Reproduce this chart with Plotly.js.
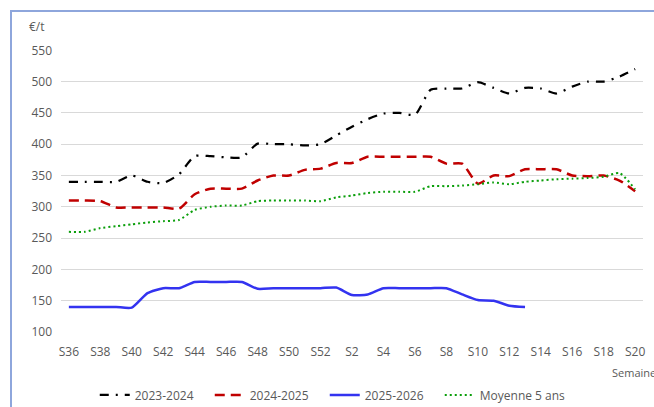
<!DOCTYPE html>
<html>
<head>
<meta charset="utf-8">
<script src="https://cdn.plot.ly/plotly-3.0.1.min.js"></script>
<style>
html,body{margin:0;padding:0;background:#fff;overflow:hidden;width:654px;height:407px;}
#chart{position:absolute;left:0;top:0;width:654px;height:407px;}
#frame{position:absolute;left:10px;top:10px;width:1000px;height:1000px;border-top:2px solid #8ea6dc;border-left:2px solid #8ea6dc;pointer-events:none;}
</style>
</head>
<body>
<div id="chart"></div>
<div id="frame"></div>
<script>
const weeks = ['S36','S37','S38','S39','S40','S41','S42','S43','S44','S45','S46','S47','S48','S49','S50','S51','S52',
  'S1','S2','S3','S4','S5','S6','S7','S8','S9','S10','S11','S12','S13','S14','S15','S16','S17','S18','S19','S20'];

const y2023_2024 = [340,340,340,340,350,340,338,352,381,381,379,379,401,400,400,398,400,
  414,428,440,449,450,447,487,489,489,499,490,481,490,489,481,492,500,500,508,520];

const y2024_2025 = [310,310,309,299,299,299,299,297,320,329,329,329,342,350,350,359,361,
  370,370,380,380,380,380,380,369,369,337,350,349,360,360,360,350,349,350,342,325];

const y2025_2026 = [140,140,140,140,139,162,170,170,180,180,180,180,169,170,170,170,170,
  171,159,160,170,170,170,170,170,160,151,150,142,140];

const yMoyenne5 = [260,260,266,269,272,275,277,279,295,300,302,302,309,310,310,310,309,
  315,318,322,324,324,324,333,333,334,336,339,336,340,342,344,345,346,348,354,328];

const seriesNames = ['2023-2024','2024-2025','2025-2026','Moyenne 5 ans'];
const yTickVals = [100,150,200,250,300,350,400,450,500,550];

const traces = [
  {x: weeks, y: y2023_2024, name: seriesNames[0], type:'scatter', mode:'lines',
   line:{color:'#000000', width:2.25, dash:'9px,7px,2px,7px', shape:'spline', smoothing:0.6}},
  {x: weeks, y: y2024_2025, name: seriesNames[1], type:'scatter', mode:'lines',
   line:{color:'#c00000', width:2.5, dash:'10px,6px', shape:'spline', smoothing:0.6}},
  {x: weeks.slice(0, y2025_2026.length), y: y2025_2026, name: seriesNames[2], type:'scatter', mode:'lines',
   line:{color:'#3333f0', width:2.5, shape:'spline', smoothing:0.6}},
  {x: weeks, y: yMoyenne5, name: seriesNames[3], type:'scatter', mode:'lines', legendwidth:100,
   line:{color:'#0a9e0a', width:2, dash:'2px,3px', shape:'spline', smoothing:0.6}}
];

const layout = {
  width:654, height:407,
  margin:{l:61, r:11, t:50, b:75, autoexpand:false},
  paper_bgcolor:'#ffffff', plot_bgcolor:'#ffffff',
  font:{family:'Open Sans, sans-serif', size:12, color:'#595959'},
  showlegend:true,
  xaxis:{type:'category', categoryorder:'array', categoryarray:weeks,
    range:[-0.5, 36.5], tickmode:'linear', tick0:0, dtick:2,
    showgrid:false, showline:false, zeroline:false, ticks:'',
    tickfont:{size:12, color:'#595959'}, ticklabelstandoff:11, automargin:false},
  yaxis:{range:[100,550.5], tickmode:'array', tickvals:yTickVals,
    showgrid:true, gridcolor:'#d9d9d9', gridwidth:1, zeroline:false, showline:false, ticks:'',
    tickfont:{size:12, color:'#595959'}, ticklabelstandoff:8, automargin:false},
  legend:{orientation:'h', x:0.058, xanchor:'left', y:-0.2234, yanchor:'middle',
    entrywidth:70, entrywidthmode:'pixels',
    font:{size:12, color:'#595959'}, bgcolor:'rgba(0,0,0,0)'},
  annotations:[
    {text:'€/t', xref:'paper', yref:'paper', x:-0.058, y:1.082, xanchor:'left', yanchor:'middle',
     showarrow:false, font:{size:12, color:'#595959'}},
    {text:'Semaine', xref:'paper', yref:'paper', x:0.944, y:-0.142, xanchor:'left', yanchor:'middle',
     showarrow:false, font:{size:11, color:'#595959'}}
  ]
};

Plotly.newPlot('chart', traces, layout, {displayModeBar:false, staticPlot:true});
</script>
</body>
</html>
